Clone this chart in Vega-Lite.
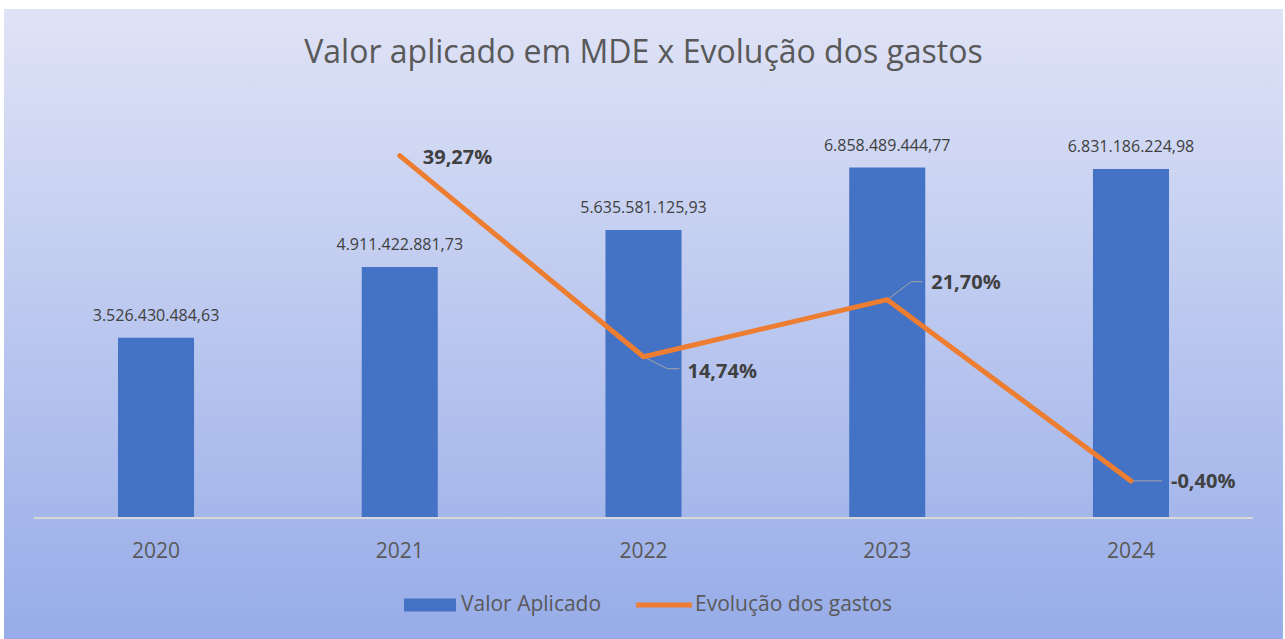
{
  "$schema": "https://vega.github.io/schema/vega-lite/v6.json",
  "autosize": "none",
  "width": 1279,
  "height": 630,
  "padding": {"left": 4, "top": 9, "right": 2, "bottom": 0},
  "background": "#ffffff",
  "view": {
    "stroke": null,
    "fill": {
      "gradient": "linear",
      "x1": 0, "y1": 0, "x2": 0, "y2": 1,
      "stops": [
        {"offset": 0, "color": "#dfe3f6"},
        {"offset": 1, "color": "#97ace8"}
      ]
    }
  },
  "title": {
    "text": "Valor aplicado em MDE x Evolução dos gastos",
    "font": "Open Sans",
    "fontSize": 32,
    "fontWeight": "normal",
    "color": "#595959",
    "anchor": "middle",
    "baseline": "alphabetic",
    "offset": 0,
    "dy": 86
  },
  "data": {
    "values": [
      {"ano": "2020", "valor": 3526430484.63, "pct": null},
      {"ano": "2021", "valor": 4911422881.73, "pct": 0.3927},
      {"ano": "2022", "valor": 5635581125.93, "pct": 0.1474},
      {"ano": "2023", "valor": 6858489444.77, "pct": 0.2170},
      {"ano": "2024", "valor": 6831186224.98, "pct": -0.0040}
    ]
  },
  "encoding": {
    "x": {
      "field": "ano",
      "type": "ordinal",
      "sort": null,
      "scale": {"paddingInner": 0.688, "paddingOuter": 0.4677},
      "axis": {
        "title": null,
        "domain": false,
        "ticks": false,
        "grid": false,
        "labelAngle": 0,
        "labelFont": "Open Sans",
        "labelFontSize": 21,
        "labelColor": "#595959",
        "labelBaseline": "alphabetic",
        "labelPadding": 39,
        "offset": -121
      }
    }
  },
  "layer": [
    {
      "encoding": {
        "y": {
          "field": "valor",
          "type": "quantitative",
          "scale": {"domain": [-2368000000, 9961000000], "nice": false, "zero": false},
          "axis": null
        }
      },
      "layer": [
        {
          "mark": {"type": "bar"},
          "encoding": {
            "color": {
              "datum": "Valor Aplicado",
              "scale": {"domain": ["Valor Aplicado", "Evolução dos gastos"], "range": ["#4472C4", "#ED7D31"]},
              "legend": {
                "orient": "none",
                "legendX": 400,
                "legendY": 570,
                "direction": "horizontal",
                "title": null,
                "padding": 0,
                "labelFont": "Open Sans",
                "labelFontSize": 21,
                "labelColor": "#595959",
                "labelLimit": 400,
                "symbolSize": 2704,
                "symbolType": "M-1,-0.25H1V0.25H-1Z",
                "labelOffset": 5,
                "columnPadding": 34,
                "encode": {
                  "symbols": {
                    "update": {
                      "shape": {"signal": "datum.value === 'Valor Aplicado' ? 'M-1,-0.25H1V0.25H-1Z' : 'M-1.07,-0.095H1.07V0.095H-1.07Z'"},
                      "fill": {"signal": "datum.value === 'Valor Aplicado' ? '#4472C4' : '#ED7D31'"},
                      "stroke": {"value": "transparent"},
                      "strokeWidth": {"value": 0},
                      "opacity": {"value": 1}
                    }
                  }
                }
              }
            }
          }
        },
        {
          "mark": {"type": "rule", "color": "#d9d9d9", "strokeWidth": 1.5, "xOffset": -122, "x2Offset": 122},
          "encoding": {
            "x": {"datum": "2020", "type": "ordinal"},
            "x2": {"datum": "2024"},
            "y": {"datum": 0, "type": "quantitative", "scale": {"domain": [-2368000000, 9961000000], "nice": false, "zero": false}, "axis": null}
          }
        },
        {
          "mark": {"type": "text", "baseline": "alphabetic", "dy": -17, "font": "Open Sans", "fontSize": 16, "color": "#404040"},
          "encoding": {
            "text": {"field": "valor", "type": "quantitative", "format": ",.2f"}
          }
        }
      ]
    },
    {
      "encoding": {
        "y": {
          "field": "pct",
          "type": "quantitative",
          "scale": {"domain": [-0.1968, 0.5715], "nice": false, "zero": false},
          "axis": null
        }
      },
      "layer": [
        {
          "transform": [{"filter": "datum.ano == '2022'"}],
          "mark": {"type": "rule", "color": "#a6a6a6", "strokeWidth": 1, "xOffset": 0, "yOffset": 0, "x2Offset": 24, "y2Offset": 12},
          "encoding": {"x2": {"field": "ano"}, "y2": {"field": "pct"}}
        },
        {
          "transform": [{"filter": "datum.ano == '2022'"}],
          "mark": {"type": "rule", "color": "#a6a6a6", "strokeWidth": 1, "xOffset": 24, "yOffset": 12, "x2Offset": 36, "y2Offset": 12},
          "encoding": {"x2": {"field": "ano"}, "y2": {"field": "pct"}}
        },
        {
          "transform": [{"filter": "datum.ano == '2023'"}],
          "mark": {"type": "rule", "color": "#a6a6a6", "strokeWidth": 1, "xOffset": 0, "yOffset": 0, "x2Offset": 24, "y2Offset": -18},
          "encoding": {"x2": {"field": "ano"}, "y2": {"field": "pct"}}
        },
        {
          "transform": [{"filter": "datum.ano == '2023'"}],
          "mark": {"type": "rule", "color": "#a6a6a6", "strokeWidth": 1, "xOffset": 24, "yOffset": -18, "x2Offset": 35, "y2Offset": -18},
          "encoding": {"x2": {"field": "ano"}, "y2": {"field": "pct"}}
        },
        {
          "transform": [{"filter": "datum.ano == '2024'"}],
          "mark": {"type": "rule", "color": "#a6a6a6", "strokeWidth": 1, "xOffset": 0, "yOffset": 0, "x2Offset": 31, "y2Offset": 0},
          "encoding": {"x2": {"field": "ano"}, "y2": {"field": "pct"}}
        },
        {
          "mark": {"type": "line", "strokeWidth": 5, "strokeCap": "round", "strokeJoin": "round"},
          "encoding": {
            "color": {"datum": "Evolução dos gastos"}
          }
        },
        {
          "transform": [{"filter": "datum.ano == '2021'"}],
          "mark": {"type": "text", "align": "left", "baseline": "middle", "dx": 23, "dy": 2, "font": "Open Sans", "fontSize": 20, "fontWeight": "bold", "color": "#404040"},
          "encoding": {"text": {"field": "pct", "type": "quantitative", "format": ".2%"}}
        },
        {
          "transform": [{"filter": "datum.ano == '2022'"}],
          "mark": {"type": "text", "align": "left", "baseline": "middle", "dx": 44, "dy": 15, "font": "Open Sans", "fontSize": 20, "fontWeight": "bold", "color": "#404040"},
          "encoding": {"text": {"field": "pct", "type": "quantitative", "format": ".2%"}}
        },
        {
          "transform": [{"filter": "datum.ano == '2023'"}],
          "mark": {"type": "text", "align": "left", "baseline": "middle", "dx": 44, "dy": -17, "font": "Open Sans", "fontSize": 20, "fontWeight": "bold", "color": "#404040"},
          "encoding": {"text": {"field": "pct", "type": "quantitative", "format": ".2%"}}
        },
        {
          "transform": [{"filter": "datum.ano == '2024'"}],
          "mark": {"type": "text", "align": "left", "baseline": "middle", "dx": 40, "dy": 1, "font": "Open Sans", "fontSize": 20, "fontWeight": "bold", "color": "#404040"},
          "encoding": {"text": {"field": "pct", "type": "quantitative", "format": ".2%"}}
        }
      ]
    }
  ],
  "resolve": {"scale": {"y": "independent"}},
  "config": {
    "locale": {
      "number": {"decimal": ",", "thousands": ".", "grouping": [3], "currency": ["R$", ""], "minus": "-"}
    },
    "axis": {"labelFont": "Open Sans"},
    "legend": {"labelFont": "Open Sans"}
  }
}
